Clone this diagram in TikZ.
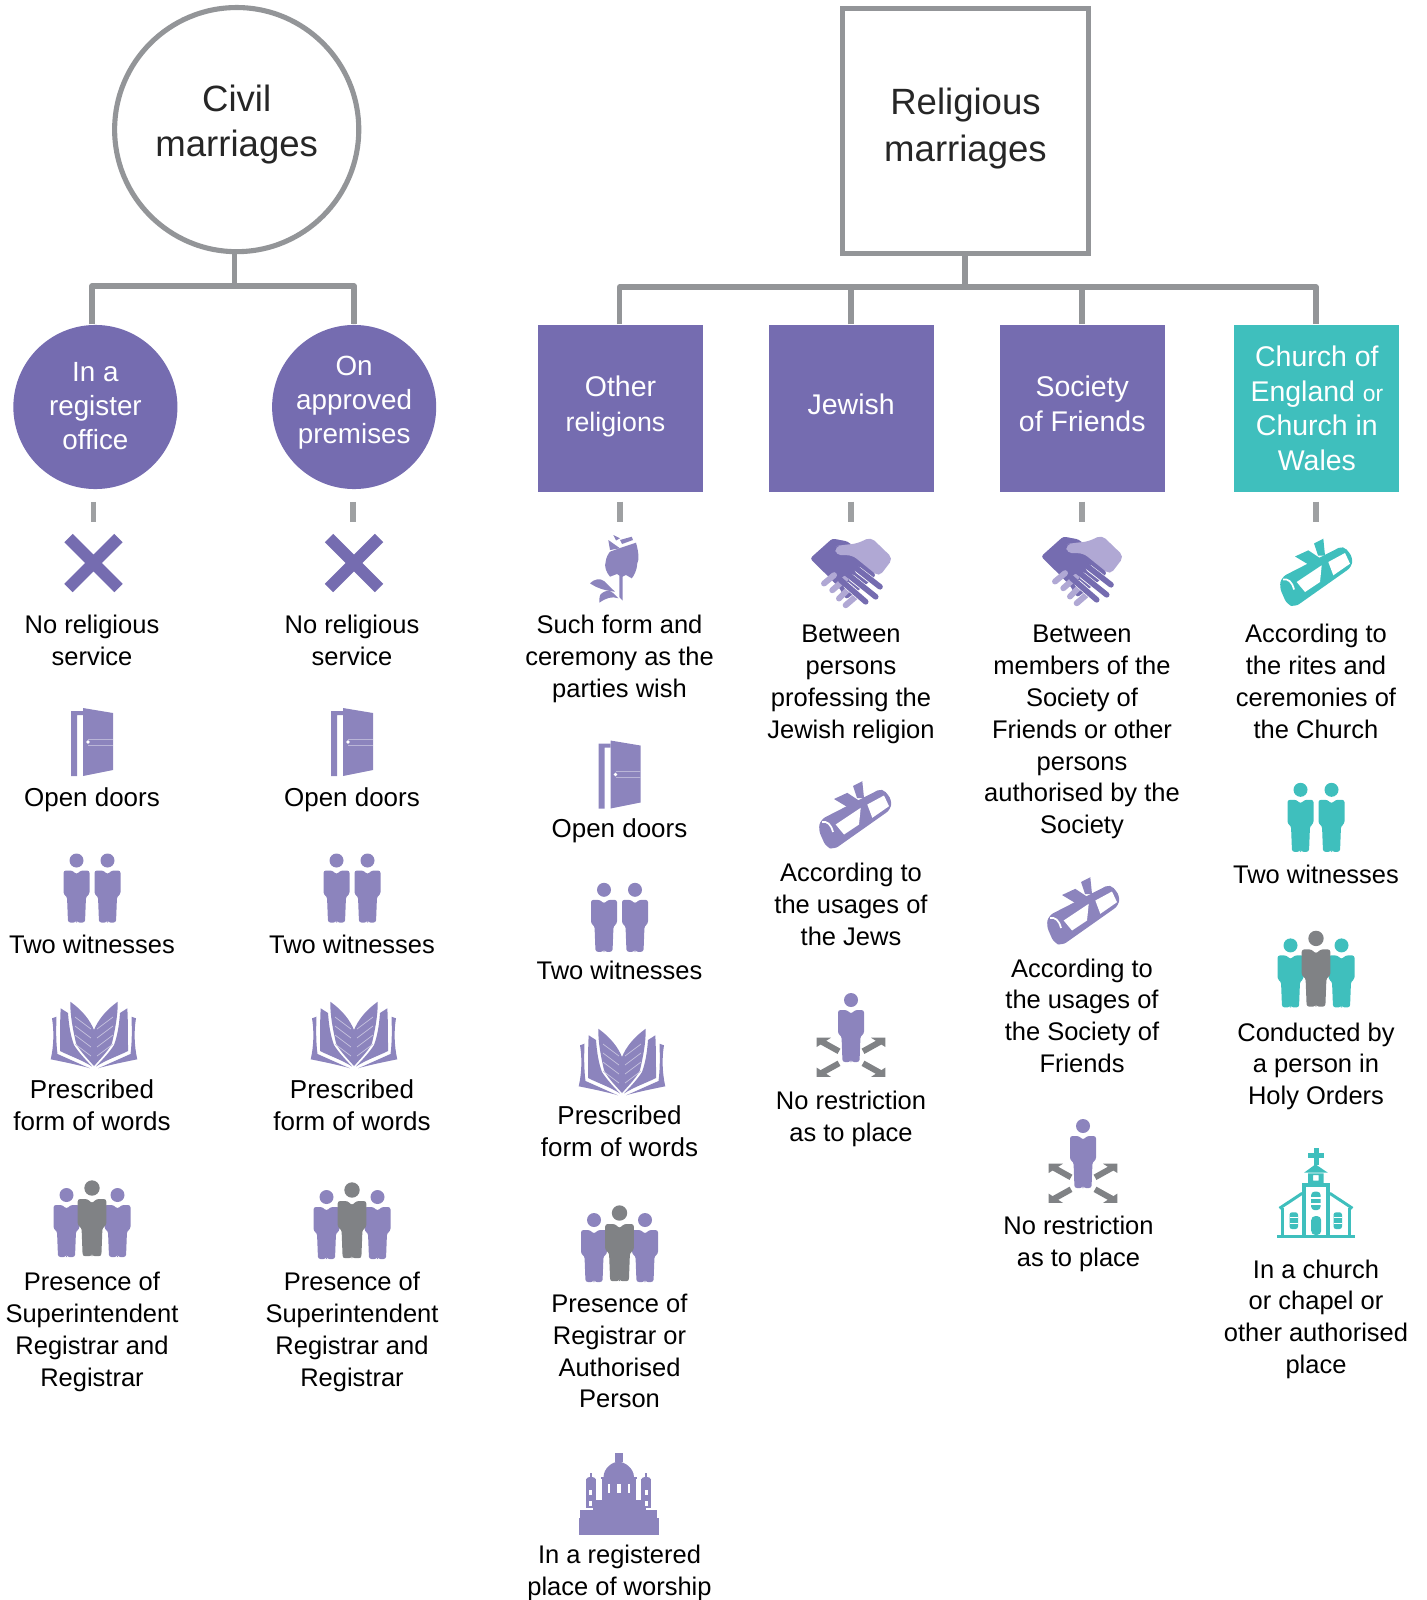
\documentclass[tikz,border=0pt]{standalone}
\usepackage{fontspec}
\setmainfont{Liberation Sans}
\usetikzlibrary{positioning,calc}
\definecolor{linegrey}{HTML}{939598}
\definecolor{headgrey}{HTML}{808285}
\definecolor{boxpurple}{HTML}{756CB0}
\definecolor{iconpurple}{HTML}{8C84BD}
\definecolor{palepurple}{HTML}{B0A8D4}
\definecolor{teal}{HTML}{3FBFBD}
\tikzstyle{bigcircle} = [draw=linegrey, line width=1.45pt, circle, minimum size=2.44cm, inner sep=0pt, align=center, font=\fontsize{10.4}{12.8}\selectfont, text=black!85]
\tikzstyle{bigbox} = [draw=linegrey, line width=1.45pt, rectangle, minimum size=2.45cm, inner sep=0pt, align=center, font=\fontsize{10.4}{13.5}\selectfont, text=black!85]
\tikzstyle{kindcircle} = [fill=boxpurple, circle, minimum size=1.64cm, inner sep=0pt, align=center, font=\fontsize{7.9}{9.6}\selectfont, text=white]
\tikzstyle{kindbox} = [fill=boxpurple, rectangle, minimum width=1.65cm, minimum height=1.665cm, inner sep=0pt, align=center, font=\fontsize{8.1}{9.8}\selectfont, text=white]
\tikzstyle{data} = [align=center, inner sep=0pt, font=\fontsize{7.25}{9.07}\selectfont]
\tikzstyle{datawide} = [data, font=\fontsize{7.38}{9.07}\selectfont]
\tikzstyle{link} = [draw=linegrey, line width=1.45pt, line join=round]
\tikzstyle{stub} = [draw=linegrey!90, line width=1.7pt]
\tikzset{
  pics/crossicon/.style={code={
    \draw [boxpurple, line width=0.12cm] (-25,-25) -- (25,25) (-25,25) -- (25,-25);
  }},
  pics/dooricon/.style={code={
    \fill [#1] (-21,-31) -- (-9,-31) -- (-9,-27) -- (-15,-27) -- (-15,34) -- (-21,34) -- cycle;
    \fill [#1] (-9,-34) -- (21,-29) -- (21,28) -- (-9,34) -- cycle;
    \fill [white] (-4,0) circle [radius=1.8];
    \draw [white!40!#1, line width=0.2pt] (-4,-3) -- (21,-3) (-4,3) -- (21,3);
  }},
  pics/personicon/.style={code={
    \fill [#1] (0,0) circle [radius=7];
    \fill [#1, rounded corners=0.7pt] (-13,10) -- (-4,10) -- (0,14) -- (4,10) -- (13,10) -- (13,34) -- (9.5,36) -- (8.5,62) -- (0.5,62) -- (0,60) -- (-0.5,62) -- (-8.5,62) -- (-9.5,36) -- (-13,34) -- cycle;
  }},
  pics/pairicon/.style={code={
    \pic at (-15.5,-27.5) {personicon=#1};
    \pic at (15.5,-27.5) {personicon=#1};
  }},
  pics/groupicon/.style={code={
    \pic at (-25.5,-24) {personicon=#1};
    \pic at (25.5,-24) {personicon=#1};
    \pic [scale=1.1] at (0,-31) {personicon=headgrey};
  }},
  pics/bookicon/.style={code={
    \foreach \side in {1,-1} {
      \begin{scope}[xscale=\side]
        \fill [#1] (-23.7,-33.3) .. controls (-12,-25) and (-4,-15) .. (0,-5) -- (0,31) .. controls (-8,22) and (-15,15) .. (-18,8) .. controls (-21,-5) and (-24,-20) .. cycle;
        \fill [#1] (-33.3,-26.7) -- (-26,-22) .. controls (-25,-8) and (-23,2) .. (-20,10) .. controls (-15,18) and (-8,25) .. (-2,31.5) .. controls (-12,25) and (-24,21) .. (-34,16) .. controls (-34,0) and (-34,-15) .. cycle;
        \fill [#1] (-42,-16.7) -- (-37.5,-18.3) .. controls (-38,-5) and (-38,8) .. (-36.5,19) .. controls (-25,24) and (-12,30) .. (-4,33.3) .. controls (-15,30) and (-30,27) .. (-43.3,24.3) .. controls (-40,10) and (-40,-5) .. cycle;
        \foreach \y in {-12,-3,6,15}
          \draw [white!50!#1, line width=0.2pt] (-19,\y-6) -- (-3,\y+6);
      \end{scope}
    }
  }},
  pics/roseicon/.style={code={
    \fill [#1] (-4,-16.3) -- (6,-20) -- (22,-25.3) .. controls (25,-15) and (25,-8) .. (23.3,-4.7) .. controls (23,2) and (20,8) .. (17.7,10.3) -- (12,7) -- (7.7,9) -- (3,6) -- (-4,8.7) .. controls (-8,4) and (-10,-2) .. (-8.3,-6.3) .. controls (-8,-10) and (-6,-14) .. cycle;
    \fill [#1] (-5.7,-28) -- (6,-19.7) -- (-4,-18) -- cycle;
    \fill [#1] (-0.7,-33) -- (6,-29.7) -- (2,-27.5) -- cycle;
    \fill [#1] (6,-28) -- (17.7,-31.3) -- (19,-28) -- (8,-24) -- cycle;
    \fill [#1] (5.3,5) -- (8.7,5) -- (8.7,32.7) -- (5.3,29) -- cycle;
    \fill [#1] (-24,15.3) .. controls (-20,11) and (-14,10) .. (-10,13) -- (1,23.7) .. controls (-6,23) and (-16,21) .. cycle;
    \fill [#1] (-14.7,34.7) .. controls (-15,30) and (-14,26) .. (-12.3,25.3) .. controls (-8,22) and (-4,22) .. (-1,25) -- (4.3,30.3) .. controls (-2,28) and (-8,30) .. cycle;
  }},
  pics/handicon/.style={code={
    \fill [boxpurple, rounded corners=0.8pt] (-41,-14) -- (-18.7,-34) -- (-3,-31) -- (10,-18) -- (25,3) -- (15,12) -- (-5,27) -- (-12,15) -- (-23.7,3) -- cycle;
    \foreach \a/\b/\c/\d in {-27/11/-17/2.7, -18.7/17.7/-5.3/6, -12/26/-2/16, -5.3/32.7/6.3/22.7}
      \draw [palepurple, line width=1.7pt, line cap=round] (\a,\b) -- (\c,\d);
    \foreach \a/\b/\c/\d in {1.3/-7.3/29/14.3, -5.3/0.3/24.7/24.3, -10.3/7.7/14.7/29.3} {
      \draw [white, line width=2pt, line cap=round] (\a+6,\b+5) -- (\c,\d);
      \draw [boxpurple, line width=1.6pt, line cap=round] (\a,\b) -- (\c,\d);
    }
    \fill [palepurple, rounded corners=1.5pt] (-15.3,-17.3) -- (-16,-26) -- (-10.3,-27.3) -- (6.3,-29) -- (19.7,-35.5) -- (42,-14) -- (28,4.3) -- (1.3,-17.3) -- cycle;
  }},
  pics/scrollicon/.style={code={
    \fill [#1, rounded corners=1.5pt] (-36.7,14.5) -- (-34.3,4.5) -- (27.3,-27) -- (36.7,-15.5) -- (35.7,-5.5) -- (-21,34.5) -- (-29,32) -- cycle;
    \fill [white] (-19.3,9.5) -- (5.7,-7.2) -- (4,9.5) -- (-11,19.5) -- cycle;
    \fill [white] (12.3,-10.5) -- (29,-19.5) -- (34,-8.8) -- (17.3,2.8) -- cycle;
    \draw [white, line width=0.5pt] (-33,7) .. controls (-28,6) and (-24,9) .. (-22,17);
    \fill [#1] (-2,-29) -- (7.3,-33.8) -- (9,-17) -- (2,-17) -- cycle;
    \fill [#1] (-21,-16) -- (-7.7,-22.2) -- (7.3,-12.2) -- (-6,-7) -- cycle;
  }},
  pics/movedicon/.style={code={
    \foreach \sx/\sy in {1/1,-1/1,1/-1,-1/-1} {
      \begin{scope}[shift={(0,22.3)},xscale=\sx,yscale=\sy]
        \fill [headgrey] (-34.3,-19.6) -- (-20,-19.6) -- (-34.3,-10.3) -- cycle;
        \draw [headgrey, line width=1.7pt] (-30,-16) -- (-12,-6);
      \end{scope}
    }
    \pic at (0,-35) {personicon=#1};
  }},
  pics/churchicon/.style={code={
    \fill [#1] (-2.5,-44.7) rectangle (2.5,-28);
    \fill [#1] (-8,-40.3) rectangle (7.5,-35);
    \fill [#1] (-12,-20.3) -- (-0.5,-28.7) -- (11.8,-20.3) -- cycle;
    \fill [#1, even odd rule] (-8,-19.7) rectangle (7.5,-9.7) (-3,-18) rectangle (2.5,-12.3);
    \fill [#1] (-13.8,-9.7) rectangle (13.5,-5.7);
    \fill [#1] (-13.8,-5.7) rectangle (-9.8,42);
    \fill [#1] (9.5,-5.7) rectangle (13.5,42);
    \fill [#1] (-38.8,42) rectangle (38.5,45.3);
    \draw [#1, line width=0.85pt] (-36.5,15.3) -- (-13.8,0.3) (36.5,15.3) -- (13.8,0.3);
    \fill [#1] (-34.8,15) rectangle (-32,42);
    \fill [#1] (32,15) rectangle (34.8,42);
    \fill [#1, rounded corners=0.9pt] (-4.8,17) -- (-4.8,-1.3) -- (4.5,-1.3) -- (4.5,17) -- cycle;
    \fill [#1, rounded corners=1.2pt] (-4.8,42) -- (-4.8,23) -- (5.2,23) -- (5.2,42) -- cycle;
    \fill [#1, rounded corners=0.7pt] (-26.5,36) -- (-26.5,19.3) -- (-18,19.3) -- (-18,36) -- cycle;
    \fill [#1, rounded corners=0.7pt] (17.5,36) -- (17.5,19.3) -- (26,19.3) -- (26,36) -- cycle;
    \foreach \y in {5,11}
      \draw [white, line width=0.4pt] (-4.8,\y) -- (4.5,\y);
    \foreach \y in {24.5,30.5}
      \draw [white, line width=0.4pt] (-26.5,\y) -- (-18,\y) (17.5,\y) -- (26,\y);
  }},
  pics/worshipicon/.style={code={
    \fill [#1] (-40,23.3) rectangle (40.5,40);
    \fill [#1] (-38.5,15) rectangle (38.2,23.3);
    \fill [#1] (-26,5) rectangle (27.5,15);
    \fill [#1] (-16.8,-15.7) rectangle (17.5,5);
    \fill [#1] (-18,-17.7) rectangle (18.5,-15.7);
    \fill [#1] (-15,-17.7) .. controls (-15,-27) and (-6,-33.3) .. (0,-33.3) .. controls (6,-33.3) and (15.5,-27) .. (15.5,-17.7) -- cycle;
    \fill [#1] (-3.5,-41.7) rectangle (4,-33.3);
    \foreach \sx in {-1,1} {
      \fill [#1] (\sx*27.6-4.9,-15.7) rectangle (\sx*27.6+4.9,13.3);
      \fill [#1] (\sx*27.6-4.9,-15.7) .. controls (\sx*27.6-4,-19) and (\sx*27.6+4,-19) .. (\sx*27.6+4.9,-15.7) -- cycle;
      \fill [#1] (\sx*27.6-0.8,-22) rectangle (\sx*27.6+0.8,-17);
      \fill [white] (\sx*27.6-1.5,-5) rectangle (\sx*27.6+1.5,0);
      \fill [white] (\sx*27.6-1.5,6) rectangle (\sx*27.6+1.5,11);
    }
    \fill [white] (-1.8,-10.7) rectangle (2.5,-1.7);
    \fill [white] (-10.8,-10.7) rectangle (-8.5,-1.7);
    \fill [white] (9.8,-10.7) rectangle (11.5,-1.7);
  }}
}

\begin{document}
\begin{tikzpicture}[x=0.01cm, y=-0.01cm]
	\useasboundingbox (0,0) rectangle (1426,1600);
	% top of the two trees
	\node (civil) [bigcircle, text depth=0.17cm] at (236.7,129.6) {Civil\\marriages};
	\node (religious) [bigbox, text depth=0.13cm] at (965.5,131) {Religious\\marriages};
	\node (reg) [kindcircle, text depth=0.02cm] at (95.4,407) {In a\\register\\office};
	\node (appr) [kindcircle, text depth=0.14cm, right of=reg, node distance=2.586cm] {On\\approved\\premises};
	\node (other) [kindbox, text depth=0.1cm] at (620.5,408.5) {Other\\{\fontsize{7.6}{9.8}\selectfont religions}\kern0.1cm};
	\node (jewish) [kindbox, text depth=0.08cm, right of=other, node distance=2.305cm] {Jewish};
	\node (friends) [kindbox, text depth=0.1cm, right of=jewish, node distance=2.31cm] {Society\\of Friends};
	\node (church) [kindbox, fill=teal, right of=friends, node distance=2.345cm] {Church of\\England {\fontsize{6.5}{9.8}\selectfont or}\\Church in\\Wales};
	\coordinate (civiljoin) at (234.7,286);
	\coordinate (regbend) at (92,286);
	\coordinate (apprbend) at (354,286);
	\coordinate (reljoin) at (965,287);
	\coordinate (otherbend) at (619.5,287);
	\coordinate (jewishbend) at (851,287);
	\coordinate (friendsbend) at (1082,287);
	\coordinate (churchbend) at (1316,287);
	\draw [link] (civil.south -| civiljoin) -- (civiljoin);
	\draw [link] (reg.north -| regbend) -- (regbend) -- (apprbend) -- (appr.north -| apprbend);
	\draw [link] (religious.south -| reljoin) -- (reljoin);
	\draw [link] (other.north -| otherbend) -- (otherbend) -- (churchbend) -- (church.north -| churchbend);
	\draw [link] (jewish.north -| jewishbend) -- (jewishbend);
	\draw [link] (friends.north -| friendsbend) -- (friendsbend);
	% short bars under the second row
	\coordinate (regstub) at (93.5,522);
	\coordinate (apprstub) at (353,522);
	\coordinate (otherstub) at (620,522);
	\coordinate (jewishstub) at (851,522);
	\coordinate (friendsstub) at (1082,522);
	\coordinate (churchstub) at (1316,522);
	\draw [stub, shorten <=0.12cm] (reg.south -| regstub) -- (regstub);
	\draw [stub, shorten <=0.12cm] (appr.south -| apprstub) -- (apprstub);
	\draw [stub, shorten <=0.09cm] (other.south -| otherstub) -- (otherstub);
	\draw [stub, shorten <=0.09cm] (jewish.south -| jewishstub) -- (jewishstub);
	\draw [stub, shorten <=0.09cm] (friends.south -| friendsstub) -- (friendsstub);
	\draw [stub, shorten <=0.09cm] (church.south -| churchstub) -- (churchstub);
	% register office
	\pic at (93.5,563) {crossicon};
	\node (regA) [data] at (92,640) {No religious\\service};
	\pic at (92,742) {dooricon=iconpurple};
	\node (regB) [datawide] at (92,800) {Open doors};
	\pic at (92,888) {pairicon=iconpurple};
	\node (regC) [data] at (92,944) {Two witnesses};
	\pic at (94,1035) {bookicon=iconpurple};
	\node (regD) [datawide] at (92,1105.6) {Prescribed\\form of words};
	\pic at (92,1219) {groupicon=iconpurple};
	\node (regE) [data] at (92,1331.6) {Presence of\\Superintendent\\Registrar and\\Registrar};
	% approved premises
	\pic at (354,563) {crossicon};
	\node (apprA) [data] at (352,640) {No religious\\service};
	\pic at (352,742) {dooricon=iconpurple};
	\node (apprB) [datawide] at (352,800) {Open doors};
	\pic at (352,888) {pairicon=iconpurple};
	\node (apprC) [data] at (352,944) {Two witnesses};
	\pic at (354,1035) {bookicon=iconpurple};
	\node (apprD) [datawide] at (352,1105.6) {Prescribed\\form of words};
	\pic at (352,1221) {groupicon=iconpurple};
	\node (apprE) [data] at (352,1331.6) {Presence of\\Superintendent\\Registrar and\\Registrar};
	% other religions
	\pic at (614,568) {roseicon=iconpurple};
	\node (otherA) [data] at (619.5,659) {Such form and\\ceremony as the\\parties wish};
	\pic at (619.5,774.5) {dooricon=iconpurple};
	\node (otherB) [datawide] at (619.5,830.6) {Open doors};
	\pic at (619.5,917.3) {pairicon=iconpurple};
	\node (otherC) [data] at (619.5,970.4) {Two witnesses};
	\pic at (622,1062) {bookicon=iconpurple};
	\node (otherD) [datawide] at (619.5,1131) {Prescribed\\form of words};
	\pic at (619.5,1244) {groupicon=iconpurple};
	\node (otherE) [data] at (619.5,1351) {Presence of\\Registrar or\\Authorised\\Person};
	\pic at (618.5,1495) {worshipicon=iconpurple};
	\node (otherF) [data] at (619.5,1573) {In a registered\\place of worship};
	% jewish
	\pic at (851,572.5) {handicon};
	\node (jewishA) [data] at (851,684.6) {Between\\persons\\professing the\\Jewish religion};
	\pic at (855,815) {scrollicon=iconpurple};
	\node (jewishB) [data] at (851,904) {According to\\the usages of\\the Jews};
	\pic at (851,1035) {movedicon=iconpurple};
	\node (jewishC) [data] at (851,1118.8) {No restriction\\as to place};
	% society of friends
	\pic at (1082,570.5) {handicon};
	\node (friendsA) [data] at (1082,732) {Between\\members of the\\Society of\\Friends or other\\persons\\authorised by the\\Society};
	\pic at (1083,911) {scrollicon=iconpurple};
	\node (friendsB) [data] at (1082,1015.8) {According to\\the usages of\\the Society of\\Friends};
	\pic at (1083,1161) {movedicon=iconpurple};
	\node (friendsC) [data] at (1078.5,1244.3) {No restriction\\as to place};
	% church of england
	\pic at (1316,572.5) {scrollicon=teal};
	\node (churchA) [data] at (1316,681.6) {According to\\the rites and\\ceremonies of\\the Church};
	\pic at (1316,817.3) {pairicon=teal};
	\node (churchB) [data] at (1316,874.5) {Two witnesses};
	\pic at (1316,969.4) {groupicon=teal};
	\node (churchC) [data] at (1316,1066.3) {Conducted by\\a person in\\Holy Orders};
	\pic at (1316,1193) {churchicon=teal};
	\node (churchD) [data] at (1316,1319.3) {In a church\\or chapel or\\other authorised\\place};
\end{tikzpicture}
\end{document}
